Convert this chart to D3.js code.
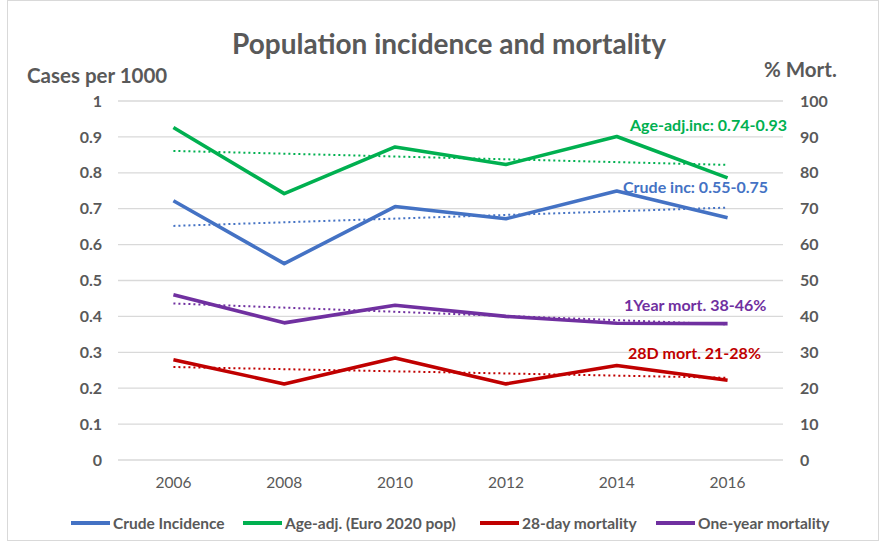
<!DOCTYPE html>
<html>
<head>
<meta charset="utf-8">
<script src="https://cdn.jsdelivr.net/npm/d3@7"></script>
<style>
  body { margin: 0; background: #fff; }
  svg { font-family: Lato, "Open Sans", sans-serif; }
</style>
</head>
<body>
<svg id="chart" width="883" height="545"></svg>
<script>
// ----- Chart data
const years = ["2006", "2008", "2010", "2012", "2014", "2016"];
const crudeIncidence = [0.722, 0.547, 0.706, 0.672, 0.749, 0.675];
const ageAdjusted = [0.926, 0.742, 0.872, 0.823, 0.901, 0.786];
const mort28 = [27.9, 21.2, 28.4, 21.2, 26.3, 22.2];
const mortYear = [46.0, 38.2, 43.1, 40.0, 38.1, 38.0];

// trend lines: [value at 2006, value at 2016]
const crudeTrend = [0.652, 0.703];
const ageTrend = [0.861, 0.822];
const mort28Trend = [25.9, 22.9];
const mortYearTrend = [43.6, 37.8];

const leftTicks = [0, 0.1, 0.2, 0.3, 0.4, 0.5, 0.6, 0.7, 0.8, 0.9, 1];
const rightTicks = [0, 10, 20, 30, 40, 50, 60, 70, 80, 90, 100];

const series = [
  { name: "Crude Incidence", values: crudeIncidence, trend: crudeTrend, axis: "left", color: "#4472C4",
    label: "Crude inc: 0.55-0.75" },
  { name: "Age-adj. (Euro 2020 pop)", values: ageAdjusted, trend: ageTrend, axis: "left", color: "#00B050",
    label: "Age-adj.inc: 0.74-0.93" },
  { name: "28-day mortality", values: mort28, trend: mort28Trend, axis: "right", color: "#C00000",
    label: "28D mort. 21-28%" },
  { name: "One-year mortality", values: mortYear, trend: mortYearTrend, axis: "right", color: "#7030A0",
    label: "1Year mort. 38-46%" }
];
// annotation label placement: baseline in axis units, left edge in px
const labelPos = [0.745, 0.916, 28.1, 41.5];
const labelX = [623, 630, 628, 624];

const svg = d3.select("#chart");
const margin = { top: 101, left: 118, right: 100, bottom: 85 };
const W = 883, H = 545;
const grey = "#595959";

// chart frame
svg.append("rect")
  .attr("x", 7.5).attr("y", 0.5)
  .attr("width", 871).attr("height", 540)
  .attr("fill", "#fff").attr("stroke", "#d9d9d9");

const x = d3.scaleBand()
  .domain(years)
  .range([margin.left, W - margin.right]);
const yL = d3.scaleLinear().domain([0, 1]).range([H - margin.bottom, margin.top]);
const yR = d3.scaleLinear().domain([0, 100]).range([H - margin.bottom, margin.top]);
const cx = d => x(d) + x.bandwidth() / 2;

// gridlines
svg.append("g")
  .selectAll("line")
  .data(leftTicks)
  .join("line")
    .attr("x1", margin.left).attr("x2", W - margin.right)
    .attr("y1", d => yL(d)).attr("y2", d => yL(d))
    .attr("stroke", "#d9d9d9").attr("stroke-width", 1.3);

// left axis
const axL = svg.append("g")
  .attr("transform", `translate(${margin.left},0)`)
  .call(d3.axisLeft(yL).tickValues(leftTicks).tickSize(0).tickPadding(16).tickFormat(d => String(+d.toFixed(1))));
axL.select(".domain").remove();
axL.selectAll(".tick text")
  .attr("font-size", 16).attr("font-weight", "bold").attr("fill", grey)
  .attr("font-family", "Lato, 'Open Sans', sans-serif");

// right axis
const axR = svg.append("g")
  .attr("transform", `translate(${W - margin.right},0)`)
  .call(d3.axisRight(yR).tickValues(rightTicks).tickSize(0).tickPadding(17));
axR.select(".domain").remove();
axR.selectAll(".tick text")
  .attr("font-size", 16).attr("font-weight", "bold").attr("fill", grey)
  .attr("font-family", "Lato, 'Open Sans', sans-serif");

// x axis
const axX = svg.append("g")
  .attr("transform", `translate(0,${H - margin.bottom})`)
  .call(d3.axisBottom(x).tickSize(0).tickPadding(17));
axX.select(".domain").remove();
axX.selectAll(".tick text")
  .attr("font-size", 15.5).attr("fill", grey)
  .attr("font-family", "Lato, 'Open Sans', sans-serif");

// trend lines (dotted)
series.forEach(s => {
  const y = s.axis === "left" ? yL : yR;
  svg.append("line")
    .attr("x1", cx(years[0])).attr("x2", cx(years[years.length - 1]))
    .attr("y1", y(s.trend[0])).attr("y2", y(s.trend[1]))
    .attr("stroke", s.color).attr("stroke-width", 2)
    .attr("stroke-dasharray", "2,3");
});

// data lines
series.forEach(s => {
  const y = s.axis === "left" ? yL : yR;
  const line = d3.line()
    .x((d, i) => cx(years[i]))
    .y(d => y(d));
  svg.append("path")
    .datum(s.values)
    .attr("d", line)
    .attr("fill", "none")
    .attr("stroke", s.color)
    .attr("stroke-width", 3.6)
    .attr("stroke-linejoin", "round");
});

// annotations
series.forEach((s, i) => {
  const y = s.axis === "left" ? yL : yR;
  svg.append("text")
    .attr("x", labelX[i])
    .attr("y", y(labelPos[i]))
    .attr("font-size", 16).attr("font-weight", "bold")
    .attr("fill", s.color)
    .text(s.label);
});

// titles
svg.append("text")
  .attr("x", 449).attr("y", 54)
  .attr("text-anchor", "middle")
  .attr("font-size", 28).attr("font-weight", "bold").attr("fill", grey)
  .text("Population incidence and mortality");
svg.append("text")
  .attr("x", 27).attr("y", 83)
  .attr("font-size", 20.5).attr("font-weight", "bold").attr("fill", grey)
  .text("Cases per 1000");
svg.append("text")
  .attr("x", 764).attr("y", 77)
  .attr("font-size", 20.5).attr("font-weight", "bold").attr("fill", grey)
  .text("% Mort.");

// legend
const legendX = [71, 243, 480, 656];
const lg = svg.append("g");
series.forEach((s, i) => {
  const g = lg.append("g").attr("transform", `translate(${legendX[i]},523)`);
  g.append("line")
    .attr("x1", 0).attr("x2", 39)
    .attr("stroke", s.color).attr("stroke-width", 4);
  g.append("text")
    .attr("x", 42).attr("y", 5.5)
    .attr("font-size", 15.5).attr("font-weight", "bold").attr("fill", grey)
    .text(s.name);
});
</script>
</body>
</html>
